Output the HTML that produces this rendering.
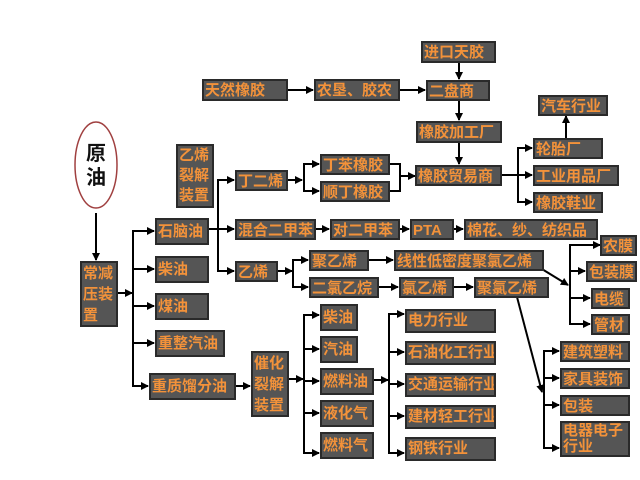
<!DOCTYPE html>
<html><head><meta charset="utf-8"><style>
html,body{margin:0;padding:0;background:#fff;}
#c{position:relative;width:640px;height:480px;overflow:hidden;background:#fff;}
.b{position:absolute;box-sizing:border-box;background:#555;border:2px solid #2a2a2a;color:#f3923a;font-family:"Liberation Sans","Noto Sans CJK SC",sans-serif;font-weight:bold;font-size:15px;line-height:19px;padding-left:1px;white-space:nowrap;overflow:hidden;}
.v{white-space:normal;line-height:20px;}
svg{position:absolute;left:0;top:0;}
</style></head><body><div id="c">
<svg width="640" height="480">
<defs><marker id="a" markerWidth="8" markerHeight="8" refX="7" refY="4" orient="auto" markerUnits="userSpaceOnUse"><path d="M0,0 L8,4 L0,8 z" fill="#000"/></marker></defs>
<g stroke="#000" stroke-width="2" fill="none">
<ellipse cx="96" cy="165" rx="21" ry="43" stroke="#a04040" stroke-width="1.5"/>
<line x1="288" y1="90" x2="313" y2="90" marker-end="url(#a)"/>
<line x1="400" y1="90" x2="425" y2="90" marker-end="url(#a)"/>
<line x1="459" y1="62" x2="459" y2="79" marker-end="url(#a)"/>
<line x1="459" y1="100" x2="459" y2="120" marker-end="url(#a)"/>
<line x1="459" y1="142" x2="459" y2="164" marker-end="url(#a)"/>
<line x1="96" y1="213" x2="96" y2="260" marker-end="url(#a)"/>
<line x1="117" y1="293" x2="132" y2="293" marker-end="url(#a)"/>
<polyline points="154,231 133,231 133,386 148,386" marker-end="url(#a)"/>
<line x1="133" y1="231" x2="154" y2="231" marker-end="url(#a)"/>
<line x1="133" y1="269" x2="154" y2="269" marker-end="url(#a)"/>
<line x1="133" y1="306" x2="154" y2="306" marker-end="url(#a)"/>
<line x1="133" y1="343" x2="154" y2="343" marker-end="url(#a)"/>
<line x1="208" y1="229" x2="218" y2="229"/>
<polyline points="234,180 218,180 218,271 234,271" marker-end="url(#a)"/>
<line x1="218" y1="180" x2="234" y2="180" marker-end="url(#a)"/>
<line x1="218" y1="229" x2="234" y2="229" marker-end="url(#a)"/>
<line x1="287" y1="180" x2="302" y2="180" marker-end="url(#a)"/>
<polyline points="319,164 304,164 304,191 319,191" marker-end="url(#a)"/>
<line x1="304" y1="164" x2="319" y2="164" marker-end="url(#a)"/>
<polyline points="389,164 400,164 400,191 389,191"/>
<line x1="400" y1="176" x2="415" y2="176" marker-end="url(#a)"/>
<line x1="501" y1="175" x2="518" y2="175"/>
<polyline points="532,148 518,148 518,202 532,202" marker-end="url(#a)"/>
<line x1="518" y1="148" x2="532" y2="148" marker-end="url(#a)"/>
<line x1="518" y1="175" x2="532" y2="175" marker-end="url(#a)"/>
<line x1="566" y1="138" x2="566" y2="116" marker-end="url(#a)"/>
<line x1="315" y1="229" x2="329" y2="229" marker-end="url(#a)"/>
<line x1="399" y1="229" x2="409" y2="229" marker-end="url(#a)"/>
<line x1="453" y1="229" x2="463" y2="229" marker-end="url(#a)"/>
<line x1="277" y1="271" x2="292" y2="271" marker-end="url(#a)"/>
<polyline points="308,260 293,260 293,287 308,287" marker-end="url(#a)"/>
<line x1="293" y1="260" x2="308" y2="260" marker-end="url(#a)"/>
<line x1="368" y1="260" x2="393" y2="260" marker-end="url(#a)"/>
<line x1="378" y1="287" x2="398" y2="287" marker-end="url(#a)"/>
<line x1="453" y1="287" x2="473" y2="287" marker-end="url(#a)"/>
<line x1="537" y1="266" x2="568" y2="285" marker-end="url(#a)"/>
<polyline points="600,245 570,245 570,324 590,324" marker-end="url(#a)"/>
<line x1="570" y1="245" x2="600" y2="245" marker-end="url(#a)"/>
<line x1="570" y1="271" x2="585" y2="271" marker-end="url(#a)"/>
<line x1="570" y1="298" x2="590" y2="298" marker-end="url(#a)"/>
<line x1="517" y1="297" x2="542" y2="392" marker-end="url(#a)"/>
<polyline points="559,351 544,351 544,448 559,448" marker-end="url(#a)"/>
<line x1="544" y1="351" x2="559" y2="351" marker-end="url(#a)"/>
<line x1="544" y1="378" x2="559" y2="378" marker-end="url(#a)"/>
<line x1="544" y1="405" x2="559" y2="405" marker-end="url(#a)"/>
<line x1="235" y1="386" x2="250" y2="386" marker-end="url(#a)"/>
<line x1="288" y1="379" x2="303" y2="379" marker-end="url(#a)"/>
<polyline points="319,315 304,315 304,453 319,453" marker-end="url(#a)"/>
<line x1="304" y1="315" x2="319" y2="315" marker-end="url(#a)"/>
<line x1="304" y1="349" x2="319" y2="349" marker-end="url(#a)"/>
<line x1="304" y1="381" x2="319" y2="381" marker-end="url(#a)"/>
<line x1="304" y1="413" x2="319" y2="413" marker-end="url(#a)"/>
<line x1="373" y1="380" x2="388" y2="380" marker-end="url(#a)"/>
<polyline points="404,314 389,314 389,453 404,453" marker-end="url(#a)"/>
<line x1="389" y1="314" x2="404" y2="314" marker-end="url(#a)"/>
<line x1="389" y1="352" x2="404" y2="352" marker-end="url(#a)"/>
<line x1="389" y1="384" x2="404" y2="384" marker-end="url(#a)"/>
<line x1="389" y1="416" x2="404" y2="416" marker-end="url(#a)"/>
</g>
<text x="96" y="160" text-anchor="middle" font-family="Liberation Sans,Noto Sans CJK SC,sans-serif" font-weight="bold" font-size="20" fill="#111">原</text>
<text x="96" y="184" text-anchor="middle" font-family="Liberation Sans,Noto Sans CJK SC,sans-serif" font-weight="bold" font-size="20" fill="#111">油</text>
</svg>
<div class="b" style="left:421px;top:41px;width:75px;height:22px">进口天胶</div>
<div class="b" style="left:202px;top:79px;width:86px;height:22px">天然橡胶</div>
<div class="b" style="left:314px;top:79px;width:86px;height:22px">农垦、胶农</div>
<div class="b" style="left:426px;top:80px;width:64px;height:21px">二盘商</div>
<div class="b" style="left:538px;top:95px;width:70px;height:21px">汽车行业</div>
<div class="b" style="left:416px;top:121px;width:86px;height:22px">橡胶加工厂</div>
<div class="b v" style="left:176px;top:144px;width:38px;height:64px">乙烯裂解装置</div>
<div class="b" style="left:235px;top:170px;width:53px;height:21px">丁二烯</div>
<div class="b" style="left:320px;top:154px;width:70px;height:21px">丁苯橡胶</div>
<div class="b" style="left:320px;top:181px;width:70px;height:21px">顺丁橡胶</div>
<div class="b" style="left:415px;top:165px;width:87px;height:21px">橡胶贸易商</div>
<div class="b" style="left:533px;top:138px;width:70px;height:21px">轮胎厂</div>
<div class="b" style="left:533px;top:165px;width:86px;height:21px">工业用品厂</div>
<div class="b" style="left:533px;top:192px;width:70px;height:21px">橡胶鞋业</div>
<div class="b" style="left:155px;top:218px;width:54px;height:27px;line-height:23px">石脑油</div>
<div class="b" style="left:235px;top:219px;width:81px;height:21px">混合二甲苯</div>
<div class="b" style="left:330px;top:219px;width:70px;height:21px">对二甲苯</div>
<div class="b" style="left:410px;top:219px;width:44px;height:21px">PTA</div>
<div class="b" style="left:464px;top:219px;width:134px;height:21px">棉花、纱、纺织品</div>
<div class="b" style="left:600px;top:235px;width:37px;height:21px">农膜</div>
<div class="b" style="left:309px;top:250px;width:60px;height:21px">聚乙烯</div>
<div class="b" style="left:394px;top:250px;width:150px;height:21px">线性低密度聚氯乙烯</div>
<div class="b" style="left:586px;top:261px;width:51px;height:21px">包装膜</div>
<div class="b v" style="left:80px;top:261px;width:38px;height:66px;line-height:21px">常减压装置</div>
<div class="b" style="left:155px;top:256px;width:54px;height:27px;line-height:23px">柴油</div>
<div class="b" style="left:235px;top:261px;width:43px;height:21px">乙烯</div>
<div class="b" style="left:309px;top:277px;width:70px;height:21px">二氯乙烷</div>
<div class="b" style="left:399px;top:277px;width:55px;height:21px">氯乙烯</div>
<div class="b" style="left:474px;top:277px;width:75px;height:21px">聚氯乙烯</div>
<div class="b" style="left:591px;top:288px;width:39px;height:21px">电缆</div>
<div class="b" style="left:155px;top:293px;width:54px;height:27px;line-height:23px">煤油</div>
<div class="b" style="left:591px;top:314px;width:39px;height:21px">管材</div>
<div class="b" style="left:155px;top:330px;width:70px;height:27px;line-height:23px">重整汽油</div>
<div class="b" style="left:320px;top:304px;width:38px;height:27px;line-height:23px">柴油</div>
<div class="b" style="left:405px;top:309px;width:91px;height:24px">电力行业</div>
<div class="b" style="left:560px;top:341px;width:70px;height:21px">建筑塑料</div>
<div class="b" style="left:320px;top:336px;width:38px;height:27px;line-height:23px">汽油</div>
<div class="b" style="left:405px;top:341px;width:91px;height:24px">石油化工行业</div>
<div class="b" style="left:149px;top:373px;width:87px;height:27px;line-height:23px">重质馏分油</div>
<div class="b v" style="left:251px;top:351px;width:38px;height:66px;line-height:21px">催化裂解装置</div>
<div class="b" style="left:320px;top:368px;width:54px;height:27px;line-height:23px">燃料油</div>
<div class="b" style="left:405px;top:373px;width:91px;height:24px">交通运输行业</div>
<div class="b" style="left:560px;top:368px;width:70px;height:21px">家具装饰</div>
<div class="b" style="left:560px;top:395px;width:70px;height:21px">包装</div>
<div class="b" style="left:320px;top:400px;width:54px;height:27px;line-height:23px">液化气</div>
<div class="b" style="left:405px;top:405px;width:91px;height:24px">建材轻工行业</div>
<div class="b v" style="left:560px;top:421px;width:70px;height:36px;line-height:16px">电器电子行业</div>
<div class="b" style="left:320px;top:432px;width:54px;height:27px;line-height:23px">燃料气</div>
<div class="b" style="left:405px;top:437px;width:91px;height:24px">钢铁行业</div>
</div></body></html>
